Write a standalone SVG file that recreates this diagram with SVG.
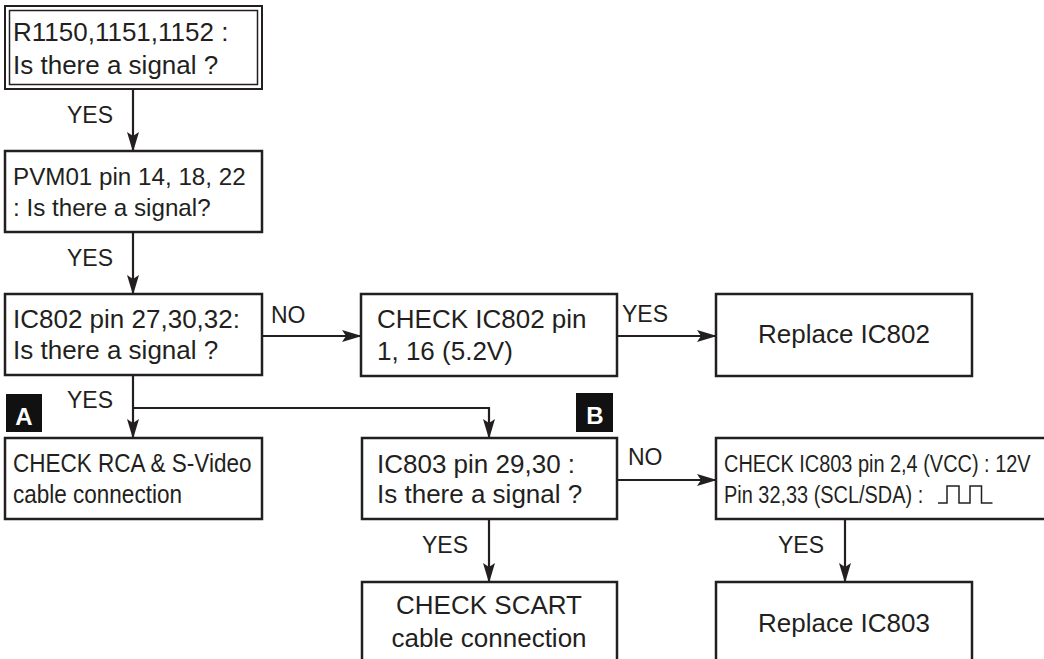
<svg xmlns="http://www.w3.org/2000/svg" width="1044" height="659" viewBox="0 0 1044 659">
<defs>
<marker id="arr" markerUnits="userSpaceOnUse" markerWidth="20" markerHeight="14" viewBox="0 0 20 14" refX="19" refY="7" orient="auto">
<path d="M0,1 L20,7 L0,13 L4,7 z" fill="#231f20"/>
</marker>
<style>
.box{fill:#fff;stroke:#231f20;stroke-width:2.5}
.t{font-family:"Liberation Sans",Arial,Helvetica,sans-serif;font-size:26px;fill:#231f20}
.t24{font-family:"Liberation Sans",Arial,Helvetica,sans-serif;font-size:24.2px;fill:#231f20}
.tn{font-family:"Liberation Sans",Arial,Helvetica,sans-serif;font-size:24px;fill:#231f20}
.lbl{font-family:"Liberation Sans",Arial,Helvetica,sans-serif;font-size:23px;fill:#231f20}
.c{fill:none;stroke:#231f20;stroke-width:2.2}
.tag{fill:#111}
.tagt{font-family:"Liberation Sans",Arial,sans-serif;font-weight:bold;font-size:24px;fill:#fff}
</style>
</defs>
<rect width="1044" height="659" fill="#fff"/>

<g id="connectors">
<path class="c" d="M133,89 V151" marker-end="url(#arr)"/>
<path class="c" d="M133,232 V294" marker-end="url(#arr)"/>
<path class="c" d="M262,336 H361" marker-end="url(#arr)"/>
<path class="c" d="M617,336 H716" marker-end="url(#arr)"/>
<path class="c" d="M133,375 V438" marker-end="url(#arr)"/>
<path class="c" d="M133,408 H489 V438" marker-end="url(#arr)"/>
<path class="c" d="M489,519 V582" marker-end="url(#arr)"/>
<path class="c" d="M617,480 H716" marker-end="url(#arr)"/>
<path class="c" d="M845,519 V582" marker-end="url(#arr)"/>
<text class="lbl" x="67" y="123">YES</text>
<text class="lbl" x="67" y="266">YES</text>
<text class="lbl" x="271" y="323">NO</text>
<text class="lbl" x="622" y="322">YES</text>
<text class="lbl" x="67" y="408">YES</text>
<text class="lbl" x="422" y="553">YES</text>
<text class="lbl" x="628" y="465">NO</text>
<text class="lbl" x="778" y="553">YES</text>
</g>

<g id="n1">
<rect x="5" y="6" width="257" height="83" fill="#fff" stroke="#231f20" stroke-width="2"/>
<rect x="9.5" y="10.5" width="248" height="74" fill="none" stroke="#231f20" stroke-width="1.5"/>
<text class="t" x="13" y="41">R1150,1151,1152 :</text>
<text class="t" x="13" y="74">Is there a signal ?</text>
</g>

<g id="n2">
<rect class="box" x="5" y="151" width="257" height="81"/>
<text class="t24" x="13" y="185">PVM01 pin 14, 18, 22</text>
<text class="t24" x="13" y="216">: Is there a signal?</text>
</g>

<g id="n3">
<rect class="box" x="5" y="294" width="257" height="81"/>
<text class="t" x="13" y="328">IC802 pin 27,30,32:</text>
<text class="t" x="13" y="359">Is there a signal ?</text>
</g>

<g id="n4">
<rect class="box" x="361" y="294" width="256" height="82"/>
<text class="t" x="377" y="328">CHECK IC802 pin</text>
<text class="t" x="377" y="360">1, 16 (5.2V)</text>
</g>

<g id="n5">
<rect class="box" x="716" y="294" width="256" height="82"/>
<text class="t" x="844" y="343" text-anchor="middle">Replace IC802</text>
</g>

<g id="tagA">
<rect class="tag" x="6" y="394" width="36" height="38"/>
<text class="tagt" x="24" y="425" text-anchor="middle">A</text>
</g>

<g id="tagB">
<rect class="tag" x="576" y="393" width="37" height="39"/>
<text class="tagt" x="595" y="424" text-anchor="middle">B</text>
</g>

<g id="n6">
<rect class="box" x="5" y="438" width="257" height="81"/>
<text class="t" transform="translate(13,472) scale(0.866,1)">CHECK RCA &amp; S-Video</text>
<text class="t" transform="translate(13,503) scale(0.866,1)">cable connection</text>
</g>

<g id="n7">
<rect class="box" x="362" y="438" width="255" height="81"/>
<text class="t" x="377" y="473">IC803 pin 29,30 :</text>
<text class="t" x="377" y="503">Is there a signal ?</text>
</g>

<g id="n8">
<rect class="box" x="716" y="438" width="332" height="81"/>
<text class="tn" transform="translate(724,472) scale(0.83,1)">CHECK IC803 pin 2,4 (VCC) : 12V</text>
<text class="tn" transform="translate(724,503) scale(0.83,1)">Pin 32,33 (SCL/SDA) :</text>
<path d="M938,503 H947 V486 H959 V503 H970 V486 H981.5 V503 H992.5" fill="none" stroke="#231f20" stroke-width="1.5"/>
</g>

<g id="n9">
<rect class="box" x="362" y="582" width="255" height="82"/>
<text class="t" x="489" y="614" text-anchor="middle">CHECK SCART</text>
<text class="t" x="489" y="647" text-anchor="middle">cable connection</text>
</g>

<g id="n10">
<rect class="box" x="716" y="582" width="256" height="82"/>
<text class="t" x="844" y="632" text-anchor="middle">Replace IC803</text>
</g>
</svg>
